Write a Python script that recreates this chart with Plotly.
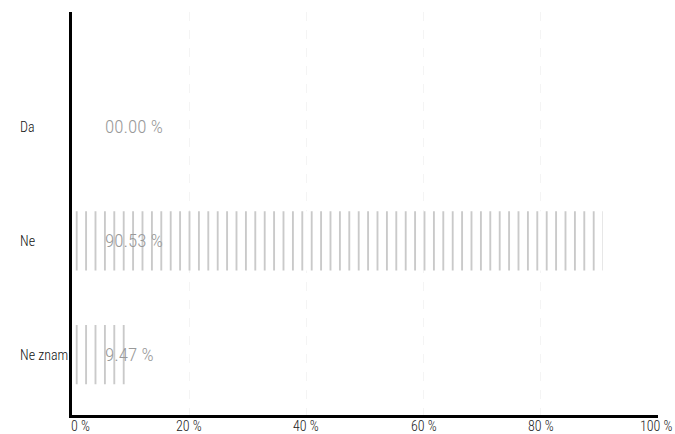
import plotly.graph_objects as go

categories = ["Da", "Ne", "Ne znam"]
values = [0.0, 90.53, 9.47]
value_labels = ["00.00 %", "90.53 %", "9.47 %"]
tick_vals = [0, 20, 40, 60, 80, 100]
tick_text = ["0 %", "20 %", "40 %", "60 %", "80 %", "100 %"]

FONT = "Roboto Condensed, Liberation Sans Narrow, sans-serif"

fig = go.Figure(
    go.Bar(
        x=values,
        y=categories,
        orientation="h",
        width=0.52,
        marker=dict(
            color="rgba(0,0,0,0)",
            line=dict(width=0),
            pattern=dict(shape="|", fgcolor="#666666", bgcolor="white",
                         size=9.4, solidity=0.14),
        ),
        hoverinfo="skip",
    )
)

# value labels, placed a little right of the axis
for cat, lab in zip(categories, value_labels):
    fig.add_annotation(x=0, y=cat, text=lab, showarrow=False, xanchor="left",
                       xshift=31, font=dict(family=FONT, size=19, color="#999999",
                                            weight=300))

# left-aligned category labels
for cat in categories:
    fig.add_annotation(xref="paper", x=-0.092, y=cat, text=cat, showarrow=False,
                       xanchor="left", font=dict(family=FONT, size=14, color="#111",
                                                 weight=300))

# x tick labels drawn as annotations so they sit tight under the axis
last = len(tick_vals) - 1
for i, (tv, tt) in enumerate(zip(tick_vals, tick_text)):
    anchor, shift = "center", 0
    if i == 0:
        anchor, shift = "left", -2
    elif i == last:
        anchor, shift = "right", 16
    fig.add_annotation(x=tv, yref="paper", y=0, text=tt, showarrow=False,
                       xanchor=anchor, yanchor="top", xshift=shift, yshift=-2,
                       borderpad=0,
                       font=dict(family=FONT, size=14, color="#222", weight=300))

fig.update_layout(
    width=675, height=434,
    margin=dict(l=72, r=17, t=12, b=19),
    plot_bgcolor="white", paper_bgcolor="white",
    showlegend=False,
    font=dict(family=FONT, size=13, color="#333"),
    xaxis=dict(range=[0, 100], tickvals=tick_vals, showticklabels=False,
               showline=True, linecolor="black", linewidth=3,
               showgrid=True, gridcolor="#f4f4f4", griddash="dash",
               zeroline=False, ticks="", automargin=False),
    yaxis=dict(categoryorder="array", categoryarray=categories,
               range=[2.53, -1.01], showline=True, linecolor="black",
               linewidth=3, showticklabels=False, showgrid=False,
               zeroline=False, ticks="", automargin=False),
)

# drop the default page margin so the figure fills the window exactly
fig.write_html("out.html",
               config={"displayModeBar": False},
               post_script="document.body.style.margin='0';"
                           "document.body.style.overflow='hidden';")
